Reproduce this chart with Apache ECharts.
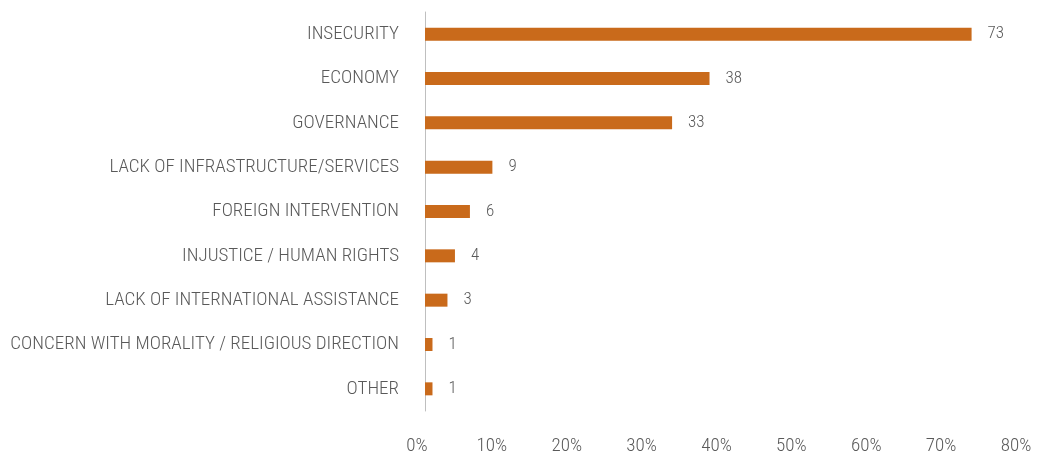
<!DOCTYPE html>
<html>
<head>
<meta charset="utf-8">
<script src="https://cdn.jsdelivr.net/npm/echarts@6/dist/echarts.min.js"></script>
<style>
  html, body { margin: 0; padding: 0; background: #fff; }
  #chart { width: 1052px; height: 457px; }
</style>
</head>
<body>
<div id="chart"></div>
<script>
// Main concerns, share of respondents (%)
const categories = [
  'INSECURITY',
  'ECONOMY',
  'GOVERNANCE',
  'LACK OF INFRASTRUCTURE/SERVICES',
  'FOREIGN INTERVENTION',
  'INJUSTICE / HUMAN RIGHTS',
  'LACK OF INTERNATIONAL ASSISTANCE',
  'CONCERN WITH MORALITY / RELIGIOUS DIRECTION',
  'OTHER'
];
const shares = [73, 38, 33, 9, 6, 4, 3, 1, 1];
const xTicks = { min: 0, max: 80, interval: 10 };

const FONT = "'Roboto Condensed', 'Liberation Sans Narrow', 'DejaVu Sans Condensed', sans-serif";
const TEXT = '#595959';

const chart = echarts.init(document.getElementById('chart'));
chart.setOption({
  animation: false,
  grid: { left: 425, right: 28, top: 12, bottom: 46, containLabel: false },
  xAxis: {
    type: 'value',
    min: xTicks.min,
    max: xTicks.max,
    interval: xTicks.interval,
    axisLine: { show: false },
    axisTick: { show: false },
    splitLine: { show: false },
    axisLabel: {
      formatter: '{value}%',
      color: TEXT,
      fontFamily: FONT,
      fontWeight: 300,
      fontSize: 19,
      margin: 26,
      padding: [0, 16, 0, 0]
    }
  },
  yAxis: {
    type: 'category',
    data: categories,
    inverse: true,
    axisLine: { show: true, lineStyle: { color: '#bfbfbf', width: 1 } },
    axisTick: { show: false },
    axisLabel: {
      color: TEXT,
      fontFamily: FONT,
      fontWeight: 300,
      fontSize: 19,
      margin: 26,
      padding: [2, 0, 0, 0]
    }
  },
  series: [{
    type: 'bar',
    data: shares,
    barWidth: 13,
    itemStyle: { color: '#C96A1B' },
    label: {
      show: true,
      position: 'right',
      distance: 16,
      color: TEXT,
      fontFamily: FONT,
      fontWeight: 300,
      fontSize: 17,
      padding: [2, 0, 0, 0]
    }
  }]
});
</script>
</body>
</html>
